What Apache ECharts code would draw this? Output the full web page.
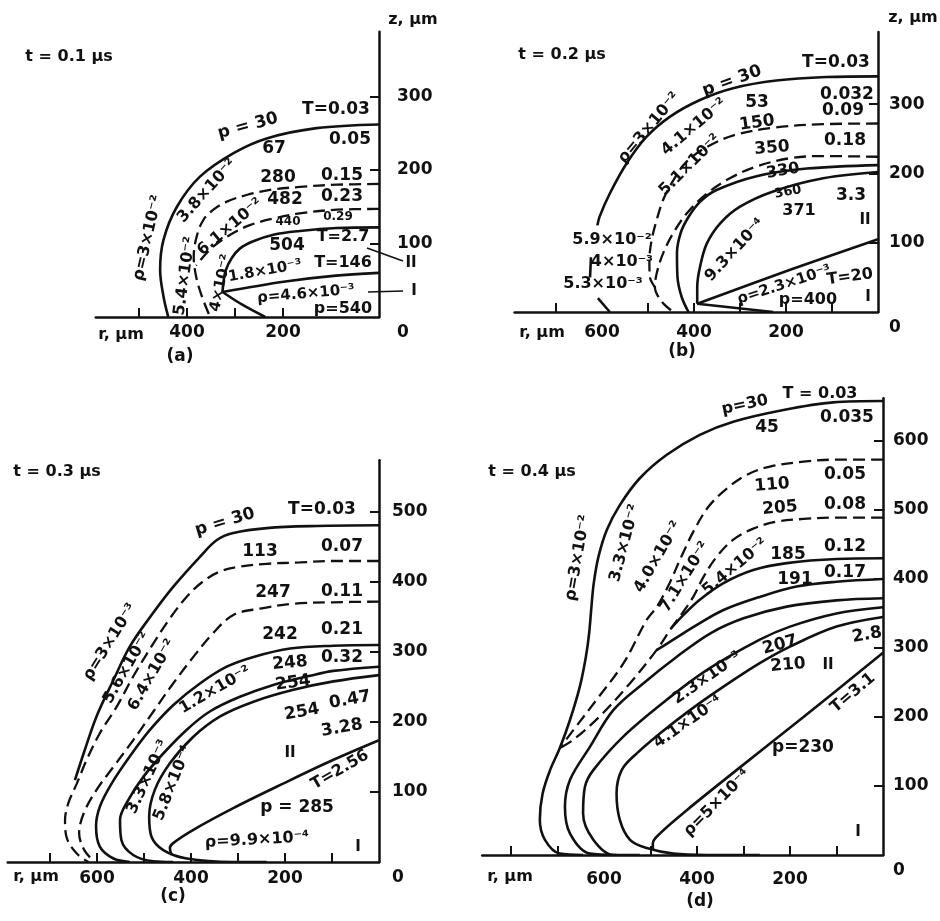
<!DOCTYPE html>
<html>
<head>
<meta charset="utf-8">
<title>Plasma contours, t = 0.1 - 0.4 us</title>
<script src="https://cdn.jsdelivr.net/npm/echarts@6/dist/echarts.min.js"></script>
<style>
  html, body { margin: 0; padding: 0; background: #fff; }
  #chart { width: 940px; height: 921px; }
</style>
</head>
<body>
<div id="chart"></div>
<script>
const INK = '#111';
const FONT = '"DejaVu Sans", "Liberation Sans", sans-serif';

// every curve is a list of [r, z] points in micrometres

// (a) t = 0.1 us
const aOuter = [[0,262],[130,257],[234,243],[303,223],[373,191],[421,150],[449,105],[456,64],[449,28],[439,0]];
const aDash1 = [[0,181],[88,180],[165,177],[227,173],[276,166],[317,157],[345,146],[366,132],[380,109],[386,82],[381,55],[369,28],[352,0]];
const aDash2 = [[0,147],[88,146],[165,141],[220,134],[269,125],[310,112],[345,96],[366,82],[381,70]];
const aInner = [[0,122],[88,121],[165,117],[220,112],[262,103],[290,93],[307,80],[319,64],[324,48],[326,34]];
const aHot = [[326,34],[199,48],[95,56],[0,60]];
const aFoot = [[326,34],[283,16],[237,0]];
const aTicksR = [200, 300, 400, 500];
const aLabelsR = [200, 400];
const aTicksZ = [100, 200, 300];
const aLabelsZ = [0, 100, 200, 300];

// (b) t = 0.2 us
const bOuterTop = [[0,340],[112,339],[221,334],[315,323],[387,306],[452,282],[503,253],[546,215],[583,171],[605,138],[610,125]];
const bOuterMid = [[624,79],[626,50]];
const bOuterLow = [[609,20],[583,0]];
const bDash1 = [[0,272],[119,271],[228,266],[314,255],[372,238],[416,217],[445,190],[467,162],[481,133],[492,104],[497,75],[496,51],[485,36]];
const bDash2 = [[0,224],[119,225],[191,222],[264,210],[322,193],[372,171],[416,142],[445,114],[467,85],[481,56],[485,36],[470,15],[445,0]];
const bSolid1 = [[0,212],[155,207],[264,196],[351,176],[387,159],[412,137],[429,114],[437,85],[436,51],[427,22],[412,0]];
const bSolid2 = [[0,202],[119,193],[228,174],[300,152],[343,128],[372,99],[387,65],[393,36],[393,12]];
const bHot = [[393,12],[191,61],[0,105]];
const bFoot = [[393,12],[228,0]];
const bTicksR = [100, 200, 300, 400, 500, 700];
const bLabelsR = [200, 400, 600];
const bTicksZ = [100, 200, 300];
const bLabelsZ = [0, 100, 200, 300];

// (c) t = 0.3 us
const cOuter = [[0,481],[133,480],[239,477],[310,470],[345,460],[381,436],[438,393],[487,350],[530,308],[565,260],[601,208],[626,160],[647,117]];
const cDash1 = [[0,430],[97,430],[168,428],[239,426],[296,422],[338,415],[374,401],[409,379],[445,348],[484,308],[523,265],[558,222],[594,184],[622,146],[643,112],[661,84],[668,60],[665,36],[643,12],[618,0]];
const cDash2 = [[0,372],[97,371],[182,369],[253,362],[310,353],[353,327],[395,293],[438,255],[480,215],[523,174],[565,136],[601,103],[628,70],[638,41],[627,17],[605,0]];
const cSolid1 = [[0,310],[97,309],[189,305],[267,293],[324,279],[381,255],[438,224],[487,189],[530,151],[569,112],[594,79],[602,51],[594,22],[565,5],[530,0]];
const cSolid2 = [[0,279],[97,273],[147,266],[225,253],[296,236],[360,215],[409,189],[459,155],[501,122],[533,89],[551,60],[548,31],[523,10],[480,1],[438,0]];
const cSolid3 = [[0,267],[97,258],[182,246],[267,229],[338,208],[395,179],[445,141],[477,103],[489,65],[484,36],[459,17],[409,5],[310,0],[239,0]];
const cHot = [[0,174],[97,146],[204,112],[310,77],[395,46],[438,27],[445,20],[441,10]];
const cTicksR = [100, 200, 300, 400, 500, 600, 700];
const cLabelsR = [200, 400, 600];
const cTicksZ = [100, 200, 300, 400, 500];
const cLabelsZ = [0, 100, 200, 300, 400, 500];

// (d) t = 0.4 us
const dOuter = [[0,658],[107,656],[214,645],[322,628],[394,609],[465,580],[523,546],[566,507],[594,471],[612,432],[622,394],[627,360],[632,321],[639,287],[652,244],[673,196],[695,155],[716,123],[732,89],[738,51],[727,22],[695,2],[645,0]];
const dDash1 = [[0,573],[100,573],[171,570],[243,563],[293,551],[336,531],[375,505],[406,471],[434,432],[459,394],[486,360],[508,341],[558,278],[616,225],[666,181],[695,155]];
const dDash2 = [[0,489],[100,489],[171,487],[229,483],[279,473],[322,457],[358,432],[386,403],[408,374],[429,353],[455,329],[487,297],[544,249],[609,201],[666,167],[695,155]];
const dSolid185 = [[0,430],[100,429],[207,423],[279,413],[343,394],[394,370],[429,348],[455,329]];
const dSolid191 = [[0,400],[100,396],[186,389],[265,374],[343,355],[401,333],[451,312],[487,297]];
const dLoop1 = [[0,372],[100,369],[207,360],[300,343],[372,321],[444,287],[515,249],[580,210],[630,157],[673,109],[684,70],[673,31],[630,2],[573,0]];
const dLoop2 = [[0,359],[100,350],[200,331],[265,312],[379,268],[465,225],[558,172],[623,123],[641,99],[645,60],[623,22],[580,0],[523,0]];
const dLoop3 = [[0,345],[100,331],[200,302],[265,278],[343,244],[415,210],[480,176],[530,147],[562,123],[573,89],[566,51],[544,22],[508,10],[451,2],[379,0],[265,0]];
const dHot = [[0,293],[171,200],[315,123],[422,65],[480,31],[495,17],[495,7]];
const dTicksR = [100, 200, 300, 400, 500, 700, 800];
const dLabelsR = [200, 400, 600];
const dTicksZ = [100, 200, 300, 400, 500, 600];
const dLabelsZ = [0, 100, 200, 300, 400, 500, 600];

// annotations: text, x, y (px, centre), rotation in degrees, font size
const aNotes = [
  ['t = 0.1 μs', 69, 57, 0, 16], ['z, μm', 413, 20, 0, 16], ['r, μm', 121, 335, 0, 16], ['(a)', 180, 357, 0, 17],
  ['p = 30', 248, 126, 15, 17], ['T=0.03', 336, 110, 0, 17], ['67', 274, 149, 0, 17], ['0.05', 350, 140, 0, 17],
  ['3.8×10⁻²', 207, 191, 48, 16], ['ρ=3×10⁻²', 148, 238, 77, 16], ['5.4×10⁻²', 185, 276, 82, 16],
  ['280', 278, 178, 0, 17], ['0.15', 342, 176, 0, 17], ['6.1×10⁻²', 230, 227, 40, 16],
  ['482', 285, 200, 0, 17], ['0.23', 342, 197, 0, 17], ['440', 288, 222, 0, 12], ['0.29', 338, 217, 0, 12],
  ['T=2.7', 343, 237, 0, 16], ['504', 287, 246, 0, 17], ['1.8×10⁻³', 265, 271, 10, 15], ['T=146', 343, 263, 0, 16],
  ['ρ=4.6×10⁻³', 306, 294, 5, 15], ['p=540', 343, 309, 0, 16], ['4×10⁻²', 221, 283, 78, 15],
  ['II', 411, 263, 0, 15], ['I', 414, 291, 0, 15]
];
const bNotes = [
  ['t = 0.2 μs', 562, 55, 0, 16], ['z, μm', 913, 18, 0, 16], ['r, μm', 542, 333, 0, 16], ['(b)', 682, 352, 0, 17],
  ['p = 30', 732, 81, 20, 17], ['T=0.03', 836, 63, 0, 17], ['0.032', 847, 95, 0, 17], ['0.09', 843, 111, 0, 17],
  ['0.18', 845, 141, 0, 17], ['53', 757, 103, 0, 17], ['150', 757, 123, 8, 17], ['350', 772, 148, 5, 17],
  ['330', 783, 171, 10, 16], ['360', 788, 192, 10, 13], ['371', 799, 211, 0, 16], ['3.3', 851, 196, 0, 17],
  ['II', 865, 220, 0, 15], ['T=20', 850, 277, 8, 16], ['I', 868, 297, 0, 15], ['p=400', 808, 300, 0, 16],
  ['ρ=2.3×10⁻³', 784, 285, 18, 15], ['9.3×10⁻⁴', 735, 250, 47, 16], ['ρ=3×10⁻²', 649, 128, 50, 16],
  ['4.1×10⁻²', 694, 127, 40, 16], ['5.1×10⁻²', 690, 165, 45, 16], ['5.9×10⁻²', 612, 240, 0, 16],
  ['4×10⁻³', 622, 262, 0, 16], ['5.3×10⁻³', 603, 284, 0, 16]
];
const cNotes = [
  ['t = 0.3 μs', 57, 472, 0, 16], ['r, μm', 36, 877, 0, 16], ['(c)', 173, 897, 0, 17],
  ['p = 30', 225, 522, 17, 17], ['T=0.03', 322, 510, 0, 17], ['113', 260, 552, 0, 17], ['0.07', 342, 547, 0, 17],
  ['247', 273, 593, 0, 17], ['0.11', 342, 592, 0, 17], ['242', 280, 635, 0, 17], ['0.21', 342, 630, 0, 17],
  ['248', 290, 663, 5, 17], ['0.32', 342, 658, 0, 17], ['254', 293, 683, 8, 17], ['254', 302, 712, 10, 17],
  ['0.47', 350, 700, 10, 17], ['3.28', 342, 728, 10, 17], ['II', 290, 753, 0, 15], ['T=2.56', 340, 770, 30, 16],
  ['p = 285', 297, 808, 0, 17], ['ρ=9.9×10⁻⁴', 257, 840, 3, 16], ['I', 358, 847, 0, 15],
  ['ρ=3×10⁻³', 110, 642, 58, 16], ['5.6×10⁻²', 127, 668, 60, 16], ['6.4×10⁻²', 152, 675, 60, 16],
  ['1.2×10⁻²', 215, 690, 30, 16], ['3.3×10⁻³', 148, 777, 65, 16], ['5.8×10⁻⁴', 173, 783, 68, 16]
];
const dNotes = [
  ['t = 0.4 μs', 532, 472, 0, 16], ['r, μm', 510, 877, 0, 16], ['(d)', 700, 902, 0, 17],
  ['p=30', 745, 405, 12, 16], ['T = 0.03', 820, 394, 0, 16], ['45', 767, 428, 0, 17], ['0.035', 847, 418, 0, 17],
  ['110', 772, 485, 5, 17], ['0.05', 845, 475, 0, 17], ['205', 780, 508, 5, 17], ['0.08', 845, 505, 0, 17],
  ['185', 788, 555, 0, 17], ['0.12', 845, 547, 0, 17], ['191', 795, 580, 0, 17], ['0.17', 845, 573, 0, 17],
  ['2.8', 867, 635, 10, 17], ['207', 780, 645, 15, 17], ['210', 788, 665, 5, 17], ['II', 828, 665, 0, 15],
  ['T=3.1', 853, 693, 40, 16], ['p=230', 803, 748, 0, 17], ['I', 858, 832, 0, 15],
  ['ρ=5×10⁻⁴', 717, 803, 45, 16], ['4.1×10⁻⁴', 688, 722, 35, 16], ['2.3×10⁻³', 707, 678, 35, 16],
  ['ρ=3×10⁻²', 578, 558, 80, 16], ['3.3×10⁻²', 625, 543, 75, 16], ['4.0×10⁻²', 658, 557, 60, 16],
  ['7.1×10⁻²', 685, 577, 58, 16], ['5.4×10⁻²', 735, 567, 40, 16]
];

// leader lines to the region labels of panel (a)
const aLeaders = [[367, 248, 403, 261], [368, 292, 403, 291]];

// x0/y0: pixel of r = 0, z = 0; sx/sy: px per micrometre
const panels = [
  { x0: 379, y0: 317, sx: 0.48, sy: 0.735, rMax: 590, zMax: 388, gapR: 7, gapZ: 18,
    solid: [aOuter, aInner, aHot, aFoot], dashed: [aDash1, aDash2],
    ticksR: aTicksR, labelsR: aLabelsR, ticksZ: aTicksZ, labelsZ: aLabelsZ },
  { x0: 878, y0: 312, sx: 0.46, sy: 0.693, rMax: 790, zMax: 404, gapR: 12, gapZ: 11,
    solid: [bOuterTop, bOuterMid, bOuterLow, bSolid1, bSolid2, bHot, bFoot], dashed: [bDash1, bDash2],
    ticksR: bTicksR, labelsR: bLabelsR, ticksZ: bTicksZ, labelsZ: bLabelsZ },
  { x0: 379, y0: 862, sx: 0.47, sy: 0.70, rMax: 790, zMax: 574, gapR: 8, gapZ: 13,
    solid: [cOuter, cSolid1, cSolid2, cSolid3, cHot], dashed: [cDash1, cDash2],
    ticksR: cTicksR, labelsR: cLabelsR, ticksZ: cTicksZ, labelsZ: cLabelsZ },
  { x0: 883, y0: 855, sx: 0.465, sy: 0.69, rMax: 862, zMax: 662, gapR: 16, gapZ: 10,
    solid: [dOuter, dSolid185, dSolid191, dLoop1, dLoop2, dLoop3, dHot], dashed: [dDash1, dDash2],
    ticksR: dTicksR, labelsR: dLabelsR, ticksZ: dTicksZ, labelsZ: dLabelsZ }
];

const labelFont = { color: INK, fontSize: 17, fontWeight: 'bold', fontFamily: FONT };

function curveSeries(curves, idx, dashed) {
  return curves.map(function (pts) {
    return {
      type: 'line',
      xAxisIndex: idx,
      yAxisIndex: idx,
      data: pts,
      smooth: 0.35,
      symbol: 'none',
      silent: true,
      lineStyle: { color: INK, width: dashed ? 2.3 : 2.6, type: dashed ? [12, 6] : 'solid' }
    };
  });
}

const grids = [], xAxes = [], yAxes = [];
let series = [];
panels.forEach(function (p, i) {
  grids.push({
    left: p.x0 - p.rMax * p.sx,
    top: p.y0 - p.zMax * p.sy,
    width: p.rMax * p.sx,
    height: p.zMax * p.sy
  });
  xAxes.push({
    gridIndex: i, type: 'value', inverse: true, min: 0, max: p.rMax,
    axisLine: { onZero: false, lineStyle: { color: INK, width: 2.5 } },
    axisTick: { inside: true, length: 9, customValues: p.ticksR, lineStyle: { color: INK, width: 2 } },
    axisLabel: Object.assign({ customValues: p.labelsR, margin: p.gapR }, labelFont),
    splitLine: { show: false }
  });
  yAxes.push({
    gridIndex: i, type: 'value', position: 'right', min: 0, max: p.zMax,
    axisLine: { show: true, onZero: false, lineStyle: { color: INK, width: 2.5 } },
    axisTick: { show: true, inside: true, length: 9, customValues: p.ticksZ, lineStyle: { color: INK, width: 2 } },
    axisLabel: Object.assign({
      customValues: p.labelsZ,
      margin: p.gapZ,
      formatter: function (v) { return v === 0 ? '{low|0}' : String(v); },
      rich: { low: Object.assign({ padding: [32, 0, 0, 0] }, labelFont) }
    }, labelFont),
    splitLine: { show: false }
  });
  series = series.concat(curveSeries(p.solid, i, false), curveSeries(p.dashed, i, true));
});

const graphics = [];
[aNotes, bNotes, cNotes, dNotes].forEach(function (notes) {
  notes.forEach(function (n) {
    graphics.push({
      type: 'text',
      x: n[1],
      y: n[2],
      rotation: n[3] * Math.PI / 180,
      silent: true,
      style: {
        text: n[0], fill: INK, fontSize: n[4], fontWeight: 'bold', fontFamily: FONT,
        align: 'center', verticalAlign: 'middle'
      }
    });
  });
});
aLeaders.forEach(function (l) {
  graphics.push({
    type: 'line', silent: true,
    shape: { x1: l[0], y1: l[1], x2: l[2], y2: l[3] },
    style: { stroke: INK, lineWidth: 1.6 }
  });
});

const chart = echarts.init(document.getElementById('chart'));
chart.setOption({
  animation: false,
  backgroundColor: '#fff',
  grid: grids,
  xAxis: xAxes,
  yAxis: yAxes,
  series: series,
  graphic: graphics
});
</script>
</body>
</html>
